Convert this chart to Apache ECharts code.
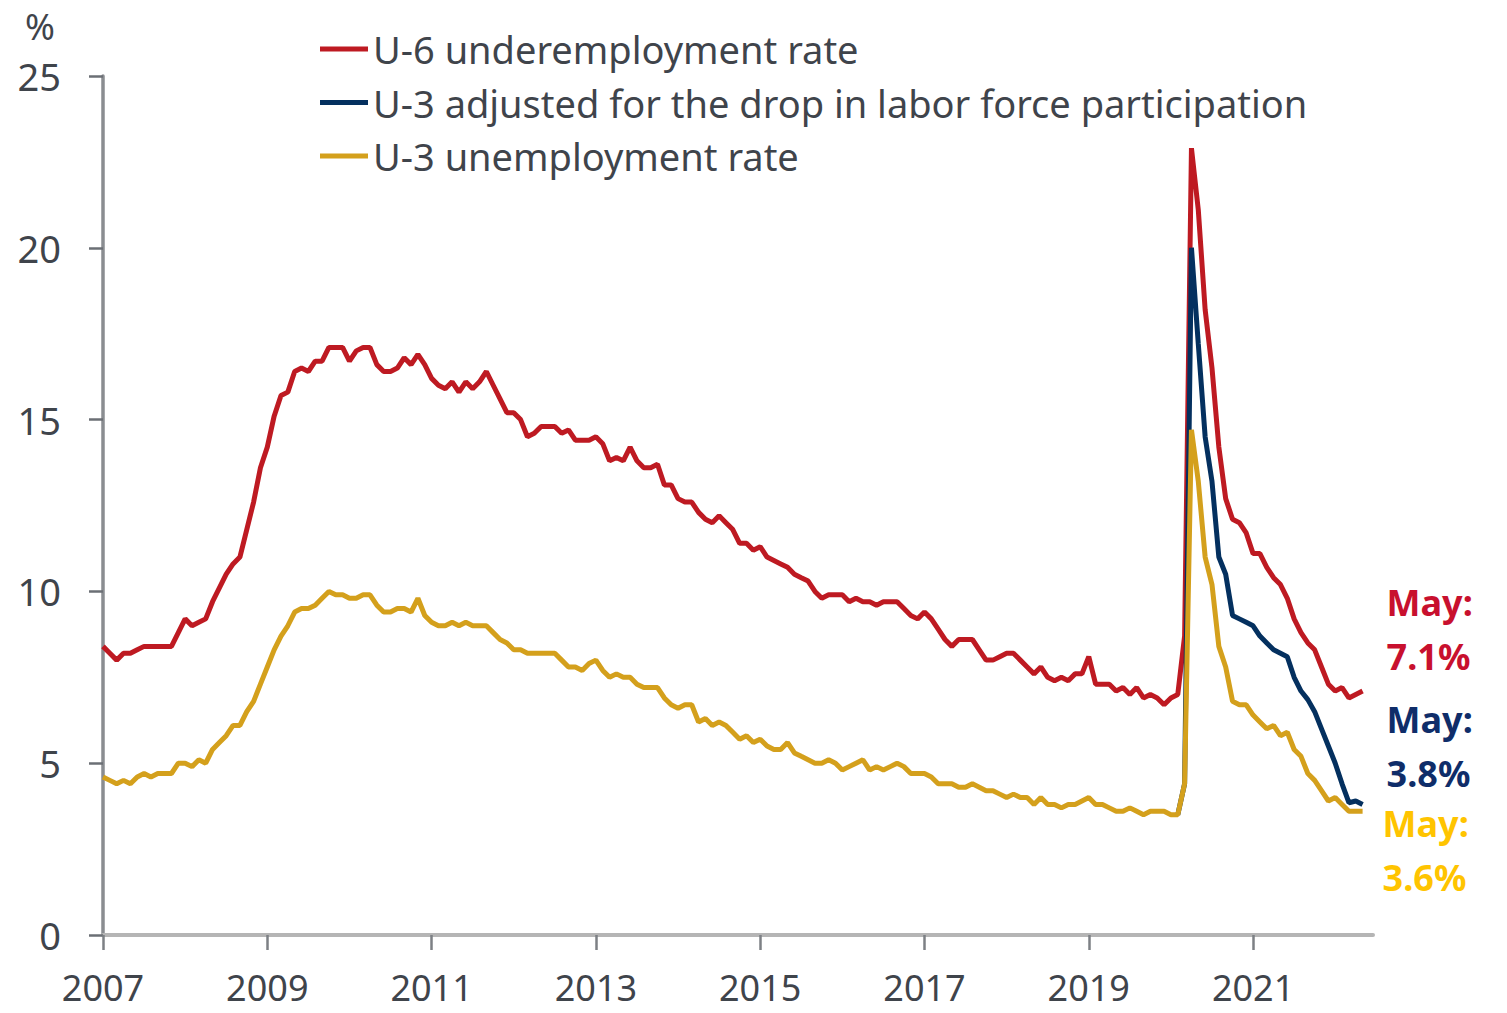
<!DOCTYPE html>
<html>
<head>
<meta charset="utf-8">
<script src="https://cdn.jsdelivr.net/npm/echarts@6/dist/echarts.min.js"></script>
<style>
html,body{margin:0;padding:0;background:#ffffff;}
#chart{width:1507px;height:1013px;}
</style>
</head>
<body>
<div id="chart"></div>
<script>
// ---- Data (monthly, starting January 2007) ----
const startYear = 2007;

const seriesNames = [
  'U-6 underemployment rate',
  'U-3 adjusted for the drop in labor force participation',
  'U-3 unemployment rate'
];

// U-6 underemployment rate, Jan 2007 .. May 2022
const u6 = [
  8.4,8.2,8.0,8.2,8.2,8.3,8.4,8.4,8.4,8.4,8.4,8.8,
  9.2,9.0,9.1,9.2,9.7,10.1,10.5,10.8,11.0,11.8,12.6,13.6,
  14.2,15.1,15.7,15.8,16.4,16.5,16.4,16.7,16.7,17.1,17.1,17.1,
  16.7,17.0,17.1,17.1,16.6,16.4,16.4,16.5,16.8,16.6,16.9,16.6,
  16.2,16.0,15.9,16.1,15.8,16.1,15.9,16.1,16.4,16.0,15.6,15.2,
  15.2,15.0,14.5,14.6,14.8,14.8,14.8,14.6,14.7,14.4,14.4,14.4,
  14.5,14.3,13.8,13.9,13.8,14.2,13.8,13.6,13.6,13.7,13.1,13.1,
  12.7,12.6,12.6,12.3,12.1,12.0,12.2,12.0,11.8,11.4,11.4,11.2,
  11.3,11.0,10.9,10.8,10.7,10.5,10.4,10.3,10.0,9.8,9.9,9.9,
  9.9,9.7,9.8,9.7,9.7,9.6,9.7,9.7,9.7,9.5,9.3,9.2,
  9.4,9.2,8.9,8.6,8.4,8.6,8.6,8.6,8.3,8.0,8.0,8.1,
  8.2,8.2,8.0,7.8,7.6,7.8,7.5,7.4,7.5,7.4,7.6,7.6,
  8.1,7.3,7.3,7.3,7.1,7.2,7.0,7.2,6.9,7.0,6.9,6.7,
  6.9,7.0,8.7,22.9,21.1,18.2,16.5,14.2,12.7,12.1,12.0,11.7,
  11.1,11.1,10.7,10.4,10.2,9.8,9.2,8.8,8.5,8.3,7.8,7.3,
  7.1,7.2,6.9,7.0,7.1
];

// U-3 unemployment rate, Jan 2007 .. May 2022
const u3 = [
  4.6,4.5,4.4,4.5,4.4,4.6,4.7,4.6,4.7,4.7,4.7,5.0,
  5.0,4.9,5.1,5.0,5.4,5.6,5.8,6.1,6.1,6.5,6.8,7.3,
  7.8,8.3,8.7,9.0,9.4,9.5,9.5,9.6,9.8,10.0,9.9,9.9,
  9.8,9.8,9.9,9.9,9.6,9.4,9.4,9.5,9.5,9.4,9.8,9.3,
  9.1,9.0,9.0,9.1,9.0,9.1,9.0,9.0,9.0,8.8,8.6,8.5,
  8.3,8.3,8.2,8.2,8.2,8.2,8.2,8.0,7.8,7.8,7.7,7.9,
  8.0,7.7,7.5,7.6,7.5,7.5,7.3,7.2,7.2,7.2,6.9,6.7,
  6.6,6.7,6.7,6.2,6.3,6.1,6.2,6.1,5.9,5.7,5.8,5.6,
  5.7,5.5,5.4,5.4,5.6,5.3,5.2,5.1,5.0,5.0,5.1,5.0,
  4.8,4.9,5.0,5.1,4.8,4.9,4.8,4.9,5.0,4.9,4.7,4.7,
  4.7,4.6,4.4,4.4,4.4,4.3,4.3,4.4,4.3,4.2,4.2,4.1,
  4.0,4.1,4.0,4.0,3.8,4.0,3.8,3.8,3.7,3.8,3.8,3.9,
  4.0,3.8,3.8,3.7,3.6,3.6,3.7,3.6,3.5,3.6,3.6,3.6,
  3.5,3.5,4.4,14.7,13.2,11.0,10.2,8.4,7.8,6.8,6.7,6.7,
  6.4,6.2,6.0,6.1,5.8,5.9,5.4,5.2,4.7,4.5,4.2,3.9,
  4.0,3.8,3.6,3.6,3.6
];

// U-3 adjusted for the drop in labor force participation, Feb 2020 .. May 2022
const u3AdjStartYear = 2020;
const u3AdjStartMonth = 2;
const u3Adj = [
  3.5,4.4,20.0,17.2,14.5,13.2,11.0,10.5,9.3,9.2,9.1,
  9.0,8.7,8.5,8.3,8.2,8.1,7.5,7.1,6.85,6.5,6.0,5.5,
  5.0,4.4,3.85,3.9,3.8
];

const xTickYears = [2007, 2009, 2011, 2013, 2015, 2017, 2019, 2021];
const endLabelPrefix = 'May:';
const yUnit = '%';

// ---- Build [x, y] pairs (x = decimal year, month start) ----
function toPairs(values, y0, m0) {
  return values.map((v, i) => [y0 + (m0 - 1 + i) / 12, v]);
}
const u6Data = toPairs(u6, startYear, 1);
const u3Data = toPairs(u3, startYear, 1);
const u3AdjData = toPairs(u3Adj, u3AdjStartYear, u3AdjStartMonth);

const FONT = "'Noto Sans', 'Open Sans', sans-serif";
const TXT = '#3f444b';
const colors = ['#BE1A22', '#04305F', '#D4A01C'];
const labelColors = ['#C8102E', '#0F2D69', '#FFC400'];

function endLabel(i, offset) {
  return {
    show: true,
    formatter: p => endLabelPrefix + '\n' + p.value[1].toFixed(1) + '%',
    color: labelColors[i],
    fontFamily: FONT,
    fontSize: 36,
    fontWeight: 'bold',
    lineHeight: 54,
    align: 'left',
    verticalAlign: 'middle',
    offset: offset
  };
}

const chart = echarts.init(document.getElementById('chart'), null, { renderer: 'svg' });
chart.setOption({
  animation: false,
  backgroundColor: '#ffffff',
  textStyle: { fontFamily: FONT },
  grid: { left: 103, right: 134, top: 76, bottom: 78, containLabel: false },
  legend: {
    orient: 'vertical',
    left: 320,
    top: 30,
    padding: 0,
    icon: 'rect',
    itemWidth: 48,
    itemHeight: 5,
    itemGap: 15.5,
    textStyle: { fontFamily: FONT, fontSize: 38, color: TXT, lineHeight: 38 },
    data: seriesNames
  },
  xAxis: {
    type: 'value',
    min: 2007,
    max: 2022.46,
    splitLine: { show: false },
    axisLine: { show: true, lineStyle: { color: '#b5b5b5', width: 4 } },
    axisTick: { show: true, customValues: xTickYears, length: 15, lineStyle: { color: '#7d8085', width: 2.5 } },
    axisLabel: {
      customValues: xTickYears,
      formatter: v => String(Math.round(v)),
      fontFamily: FONT, fontSize: 36, lineHeight: 36, color: TXT, margin: 34
    }
  },
  yAxis: {
    type: 'value',
    min: 0,
    max: 25,
    interval: 5,
    name: yUnit,
    nameLocation: 'end',
    nameGap: 32,
    nameTextStyle: { fontFamily: FONT, fontSize: 36, lineHeight: 36, color: TXT, align: 'right', padding: [0, 48, 0, 0] },
    splitLine: { show: false },
    axisLine: { show: true, lineStyle: { color: '#8a8d91', width: 3.5 } },
    axisTick: { show: true, length: 14, lineStyle: { color: '#6b6f75', width: 2.5 } },
    axisLabel: { fontFamily: FONT, fontSize: 38, lineHeight: 38, color: TXT, margin: 42 }
  },
  series: [
    {
      name: seriesNames[0], type: 'line', data: u6Data, showSymbol: false, z: 2,
      lineStyle: { color: colors[0], width: 5 }, itemStyle: { color: colors[0] },
      endLabel: endLabel(0, [16, -62])
    },
    {
      name: seriesNames[1], type: 'line', data: u3AdjData, showSymbol: false, z: 3,
      lineStyle: { color: colors[1], width: 5 }, itemStyle: { color: colors[1] },
      endLabel: endLabel(1, [16, -58])
    },
    {
      name: seriesNames[2], type: 'line', data: u3Data, showSymbol: false, z: 4,
      lineStyle: { color: colors[2], width: 5 }, itemStyle: { color: colors[2] },
      endLabel: endLabel(2, [12, 39])
    }
  ]
});
</script>
</body>
</html>
